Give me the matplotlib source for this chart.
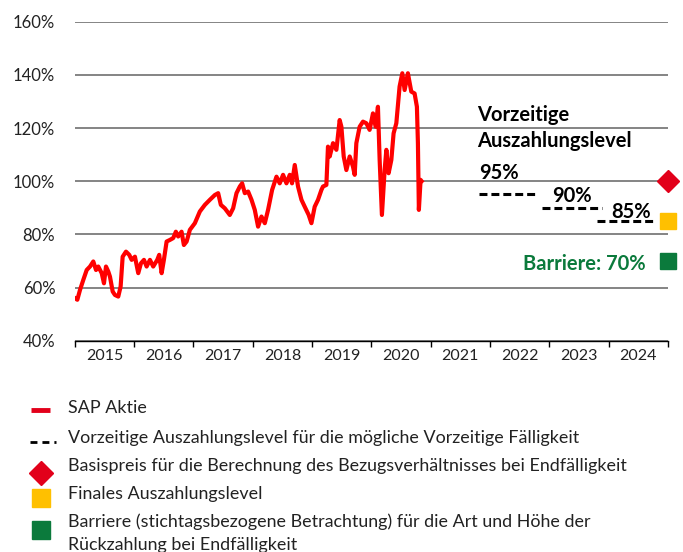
import matplotlib
matplotlib.use("Agg")
import matplotlib.pyplot as plt

plt.rcParams['font.family'] = ['Lato', 'DejaVu Sans']

# SAP share price, relative to the strike (decimal years / percent)
dates = [2015.005, 2015.044, 2015.089, 2015.145, 2015.202, 2015.258, 2015.313, 2015.359,
         2015.397, 2015.455, 2015.493, 2015.527, 2015.566, 2015.594, 2015.640, 2015.678,
         2015.734, 2015.774, 2015.808, 2015.864, 2015.919, 2015.960, 2016.015, 2016.071,
         2016.116, 2016.167, 2016.212, 2016.268, 2016.323, 2016.391, 2016.424, 2016.465,
         2016.503, 2016.549, 2016.604, 2016.660, 2016.705, 2016.744, 2016.801, 2016.840,
         2016.886, 2016.941, 2017.025, 2017.109, 2017.194, 2017.278, 2017.362, 2017.418,
         2017.463, 2017.530, 2017.614, 2017.670, 2017.727, 2017.783, 2017.822, 2017.867,
         2017.923, 2017.980, 2018.035, 2018.091, 2018.148, 2018.204, 2018.259, 2018.327,
         2018.401, 2018.456, 2018.512, 2018.569, 2018.625, 2018.663, 2018.709, 2018.764,
         2018.822, 2018.877, 2018.944, 2018.990, 2019.045, 2019.101, 2019.158, 2019.185,
         2019.242, 2019.269, 2019.298, 2019.354, 2019.411, 2019.466, 2019.495, 2019.534,
         2019.579, 2019.635, 2019.690, 2019.719, 2019.747, 2019.803, 2019.859, 2019.916,
         2019.971, 2020.027, 2020.072, 2020.111, 2020.140, 2020.178, 2020.224, 2020.253,
         2020.291, 2020.337, 2020.375, 2020.421, 2020.476, 2020.522, 2020.561, 2020.616,
         2020.673, 2020.729, 2020.768, 2020.785, 2020.801, 2020.830, 2020.847]
sap = [56.0, 55.4, 59.1, 62.9, 66.6, 67.9, 69.8, 66.6,
       67.9, 65.4, 61.6, 67.9, 66.0, 64.1, 58.5, 57.2,
       56.6, 60.4, 71.6, 73.5, 72.3, 70.4, 71.6, 65.4,
       69.1, 70.4, 67.9, 70.4, 67.9, 70.4, 72.3, 65.4,
       70.4, 77.3, 77.9, 78.6, 81.0, 79.2, 81.0, 76.0,
       77.3, 81.7, 84.2, 88.6, 91.1, 93.0, 94.8, 95.5,
       91.1, 89.8, 87.3, 89.8, 95.5, 98.0, 99.2, 95.5,
       96.1, 93.0, 89.2, 82.9, 86.7, 84.2, 89.2, 96.7,
       101.7, 99.2, 102.4, 99.2, 102.4, 99.2, 106.1, 98.0,
       93.0, 90.4, 87.3, 84.2, 90.4, 93.0, 96.7, 98.0,
       98.6, 113.0, 109.3, 114.3, 111.8, 123.0, 120.5, 109.3,
       104.2, 109.3, 105.5, 102.4, 114.3, 120.5, 122.4, 121.8,
       119.3, 125.5, 120.5, 128.0, 108.0, 87.3, 104.2, 111.8,
       103.0, 108.0, 118.0, 121.8, 135.6, 140.6, 134.3, 140.6,
       133.7, 133.0, 128.0, 114.3, 89.2, 100.5, 100.0]

# early redemption levels: (start, end, level)
call_start = [2021.82, 2022.88, 2023.81]
call_end = [2022.80, 2023.88, 2024.80]
call_level = [95, 90, 85]
call_labels = ['95%', '90%', '85%']

strike = 100
final_level = 85
barrier = 70
maturity = 2025.0

years = list(range(2015, 2025))

RED = '#ff0000'
DARK_RED = '#e2001a'
YELLOW = '#ffc000'
GREEN = '#0b7a3c'

fig = plt.figure(figsize=(6.83, 5.52), dpi=100)
ax = fig.add_axes([0.1094, 0.3828, 0.8686, 0.5779])

ax.set_xlim(2015, 2025)
ax.set_ylim(40, 160)
ax.set_yticks(range(40, 161, 20))
ax.set_yticklabels([f'{v}%' for v in range(40, 161, 20)], fontsize=12, color='#222222')
ax.tick_params(axis='y', length=0, pad=14)
ax.set_xticks(range(2015, 2026))
ax.set_xticklabels([])
ax.set_xticks([y + 0.5 for y in years], minor=True)
ax.set_xticklabels([str(y) for y in years], minor=True, fontsize=11.5, color='#222222')
ax.tick_params(axis='x', which='major', length=4, width=1, color='black')
ax.tick_params(axis='x', which='minor', length=0, pad=6)
for s in ['top', 'left', 'right']:
    ax.spines[s].set_visible(False)
ax.spines['bottom'].set_color('black')
ax.spines['bottom'].set_linewidth(1)
ax.yaxis.grid(True, color='#6f6f6f', linewidth=1.2)
ax.set_axisbelow(True)

ax.plot(dates, sap, color=RED, linewidth=3.0, solid_joinstyle='round', zorder=3)

for x0, x1, lvl in zip(call_start, call_end, call_level):
    ax.plot([x0, x1], [lvl, lvl], color='black', linewidth=2.2,
            dashes=[2.6, 1.3], zorder=3)

ax.text(2021.79, 122.7, 'Vorzeitige', fontsize=14.5, fontweight='bold', va='baseline')
ax.text(2021.79, 112.9, 'Auszahlungslevel', fontsize=14.5, fontweight='bold', va='baseline')
ax.text(2021.82, 100.7, call_labels[0], fontsize=14.5, fontweight='bold', va='baseline')
ax.text(2023.05, 92.1, call_labels[1], fontsize=14.5, fontweight='bold', va='baseline')
ax.text(2024.04, 86.1, call_labels[2], fontsize=14.5, fontweight='bold', va='baseline')
ax.text(2024.62, 66.6, f'Barriere: {barrier}%', fontsize=14.5, fontweight='bold',
        color=GREEN, ha='right', va='baseline')

ax.plot([maturity], [strike], marker='D', markersize=11, color=DARK_RED, clip_on=False, zorder=4)
ax.plot([maturity], [final_level], marker='s', markersize=11, color=YELLOW, clip_on=False, zorder=4)
ax.plot([maturity], [barrier], marker='s', markersize=11, color=GREEN, clip_on=False, zorder=4)

# legend drawn in pixel coordinates below the chart
lg = fig.add_axes([0, 0, 1, 1], facecolor='none')
lg.set_xlim(0, 683)
lg.set_ylim(552, 0)
lg.axis('off')
lg.plot([31, 50], [410, 410], color=DARK_RED, linewidth=3.5, solid_capstyle='butt')
lg.plot([30, 56], [442, 442], color='black', linewidth=2, dashes=[2.5, 1.8])
lg.plot([40.5], [473], marker='D', markersize=12, color=DARK_RED)
lg.plot([41], [498], marker='s', markersize=13.5, color=YELLOW)
lg.plot([41], [530], marker='s', markersize=13.5, color=GREEN)

legend_text = [
    (408, 'SAP Aktie'),
    (438, 'Vorzeitige Auszahlungslevel für die mögliche Vorzeitige Fälligkeit'),
    (466, 'Basispreis für die Berechnung des Bezugsverhältnisses bei Endfälligkeit'),
    (494, 'Finales Auszahlungslevel'),
    (522, 'Barriere (stichtagsbezogene Betrachtung) für die Art und Höhe der'),
    (545, 'Rückzahlung bei Endfälligkeit'),
]
for y, t in legend_text:
    lg.text(68, y, t, fontsize=12.9, color='#222222', va='center')

fig.savefig('out.png', dpi=100)
